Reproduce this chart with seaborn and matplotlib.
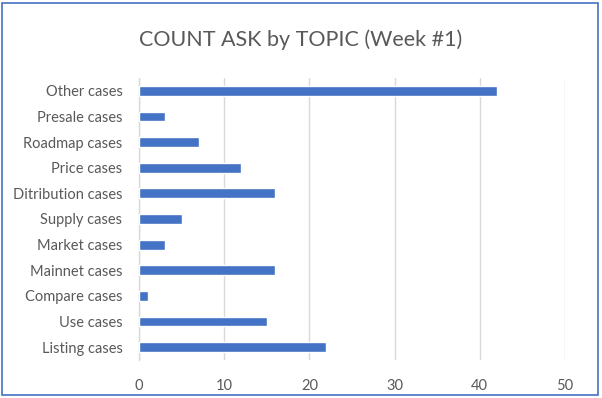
import matplotlib
matplotlib.use("Agg")
import matplotlib.pyplot as plt
import seaborn as sns
import pandas as pd
from matplotlib.patches import Rectangle

# Data (top to bottom)
topics = ["Other cases", "Presale cases", "Roadmap cases", "Price cases", "Ditribution cases",
          "Supply cases", "Market cases", "Mainnet cases", "Compare cases", "Use cases", "Listing cases"]
counts = [42, 3, 7, 12, 16, 5, 3, 16, 1, 15, 22]
x_ticks = [0, 10, 20, 30, 40, 50]

df = pd.DataFrame({"topic": topics, "count": counts})

sns.set_theme(style="white")
plt.rcParams["font.family"] = ["Lato", "DejaVu Sans"]

fig = plt.figure(figsize=(6.02, 3.98), dpi=100)
ax = fig.add_axes([0.231, 0.0955, 0.7075, 0.7085])

sns.barplot(data=df, y="topic", x="count", orient="h", color="#4472C4",
            saturation=1, width=0.38, ax=ax, zorder=3)

ax.set_xlim(0, 50)
ax.set_xticks(x_ticks)
ax.set_xlabel("")
ax.set_ylabel("")
ax.grid(axis="x", color="#D9D9D9", linewidth=1, zorder=0)
ax.grid(axis="y", visible=False)
for side in ["top", "right", "bottom"]:
    ax.spines[side].set_visible(False)
ax.spines["left"].set_color("#D9D9D9")
ax.spines["left"].set_linewidth(1)
ax.tick_params(axis="both", length=0, labelsize=10.5, colors="#595959")
ax.tick_params(axis="x", pad=14)
ax.tick_params(axis="y", pad=12)

fig.text(0.5, 0.9, "COUNT ASK by TOPIC (Week #1)", ha="center", va="center",
         fontsize=15.5, color="#595959")

# blue outline around the chart area
fig.patches.append(Rectangle((0.004, 0.008), 0.99, 0.984, transform=fig.transFigure,
                             fill=False, edgecolor="#4472C4", linewidth=1.2))

fig.savefig("out.png", dpi=100)
